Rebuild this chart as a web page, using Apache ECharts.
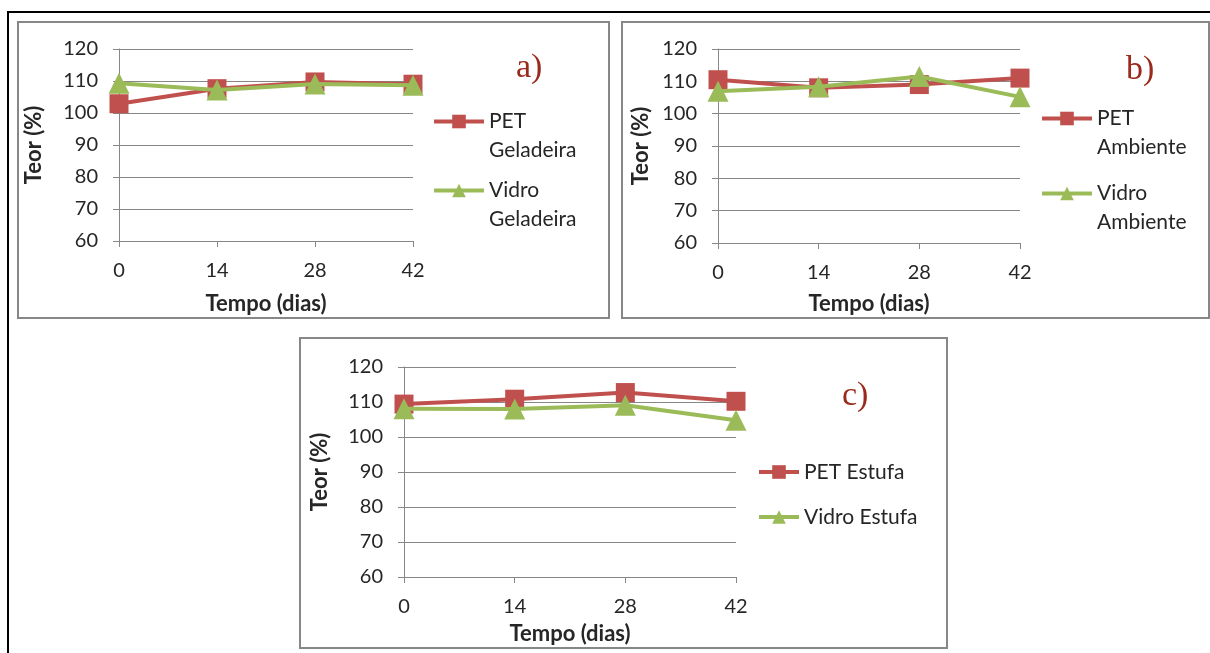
<!DOCTYPE html>
<html>
<head>
<meta charset="utf-8">
<script src="https://cdn.jsdelivr.net/npm/echarts@6/dist/echarts.min.js"></script>
<style>
  html, body { margin: 0; padding: 0; background: #fff; }
  #chart { width: 1210px; height: 653px; }
</style>
</head>
<body>
<div id="chart"></div>
<script>
const dias = ['0', '14', '28', '42'];
const yTicks = [60, 70, 80, 90, 100, 110, 120];

const petGeladeira = [102.9, 107.6, 109.7, 109.0];
const vidroGeladeira = [109.3, 107.2, 109.1, 108.7];
const petAmbiente = [110.5, 108.0, 109.0, 111.0];
const vidroAmbiente = [106.9, 108.3, 111.5, 105.2];
const petEstufa = [109.4, 110.8, 112.7, 110.2];
const vidroEstufa = [108.1, 108.0, 109.1, 104.8];

(function () {
  const RED = '#C0504D';
  const GREEN = '#9BBB59';
  const GRAY = '#878787';
  const TXT = '#262626';
  const FONT = 'Lato, "Open Sans", sans-serif';

  const panels = [
    { grid: { left: 119, top: 49, width: 294, height: 192 }, nameGapX: 52, nameGapY: 74, idx: 0 },
    { grid: { left: 718, top: 49, width: 302, height: 194 }, nameGapX: 50, nameGapY: 66, idx: 1 },
    { grid: { left: 404, top: 367, width: 332, height: 210 }, nameGapX: 46, nameGapY: 73, idx: 2 }
  ];

  const xAxis = panels.map(p => ({
    type: 'category',
    gridIndex: p.idx,
    data: dias,
    boundaryGap: false,
    name: 'Tempo (dias)',
    nameLocation: 'middle',
    nameGap: p.nameGapX,
    nameTextStyle: { fontFamily: FONT, fontWeight: 'bold', fontSize: 22, color: TXT },
    axisLine: { lineStyle: { color: GRAY, width: 1 } },
    axisTick: { show: true, length: 6, alignWithLabel: true, lineStyle: { color: GRAY } },
    axisLabel: { fontFamily: FONT, fontSize: 20, color: TXT, margin: 20 },
    splitLine: { show: false }
  }));

  const yAxis = panels.map(p => ({
    type: 'value',
    gridIndex: p.idx,
    min: yTicks[0],
    max: yTicks[yTicks.length - 1],
    interval: 10,
    name: 'Teor (%)',
    nameLocation: 'middle',
    nameGap: p.nameGapY,
    nameRotate: 90,
    nameTextStyle: { fontFamily: FONT, fontWeight: 'bold', fontSize: 22, color: TXT },
    axisLine: { show: true, lineStyle: { color: GRAY, width: 1 } },
    axisTick: { show: true, length: 6, lineStyle: { color: GRAY } },
    axisLabel: { fontFamily: FONT, fontSize: 20, color: TXT, margin: 21 },
    splitLine: { show: true, lineStyle: { color: GRAY, width: 1 } }
  }));

  function mk(name, data, idx, isPet) {
    return {
      name: name,
      type: 'line',
      xAxisIndex: idx,
      yAxisIndex: idx,
      data: data,
      symbol: isPet ? 'rect' : 'triangle',
      symbolSize: isPet ? 19 : 21,
      showSymbol: true,
      lineStyle: { width: 4, color: isPet ? RED : GREEN },
      itemStyle: { color: isPet ? RED : GREEN },
      z: isPet ? 2 : 3,
      animation: false
    };
  }

  const series = [
    mk('PET Geladeira', petGeladeira, 0, true),
    mk('Vidro Geladeira', vidroGeladeira, 0, false),
    mk('PET Ambiente', petAmbiente, 1, true),
    mk('Vidro Ambiente', vidroAmbiente, 1, false),
    mk('PET Estufa', petEstufa, 2, true),
    mk('Vidro Estufa', vidroEstufa, 2, false)
  ];

  const legendBase = {
    orient: 'vertical',
    itemWidth: 50,
    itemHeight: 17,
    selectedMode: false,
    lineStyle: { width: 4 },
    textStyle: { fontFamily: FONT, fontSize: 21, color: TXT }
  };

  // legenda em duas linhas: linha vazia antes para o icone ficar na altura da primeira linha
  const twoLine = {
    ...legendBase,
    formatter: n => '\n' + n.replace(' ', '\n'),
    textStyle: { ...legendBase.textStyle, lineHeight: 29 }
  };

  const legend = [
    { ...twoLine, itemGap: -18, data: ['PET Geladeira', 'Vidro Geladeira'], left: 427, top: 73 },
    { ...twoLine, itemGap: -12, data: ['PET Ambiente', 'Vidro Ambiente'], left: 1035, top: 70 },
    { ...legendBase, itemWidth: 40, itemGap: 23, data: ['PET Estufa', 'Vidro Estufa'], left: 752, top: 456,
      textStyle: { ...legendBase.textStyle, lineHeight: 22 } }
  ];

  function frame(x, y, w, h, color, lw) {
    return { type: 'rect', shape: { x: x, y: y, width: w, height: h }, style: { fill: null, stroke: color, lineWidth: lw }, silent: true, z: -1 };
  }
  function tag(text, x, y) {
    return { type: 'text', x: x, y: y, style: { text: text, fontFamily: '"Liberation Serif", "DejaVu Serif", serif', fontSize: 34, fill: '#9A2A1C' }, silent: true };
  }

  const chart = echarts.init(document.getElementById('chart'), null, { renderer: 'canvas' });
  chart.setOption({
    animation: false,
    backgroundColor: '#fff',
    grid: panels.map(p => ({ ...p.grid, containLabel: false })),
    xAxis: xAxis,
    yAxis: yAxis,
    legend: legend,
    series: series,
    graphic: [
      frame(8, 12, 1220, 660, '#000', 2),
      frame(18, 22, 591, 296, GRAY, 2),
      frame(622, 22, 587, 296, GRAY, 2),
      frame(300, 338, 647, 310, GRAY, 2),
      tag('a)', 516, 51),
      tag('b)', 1126, 53),
      tag('c)', 842, 379)
    ]
  });
  window.addEventListener('resize', () => chart.resize());
})();
</script>
</body>
</html>
